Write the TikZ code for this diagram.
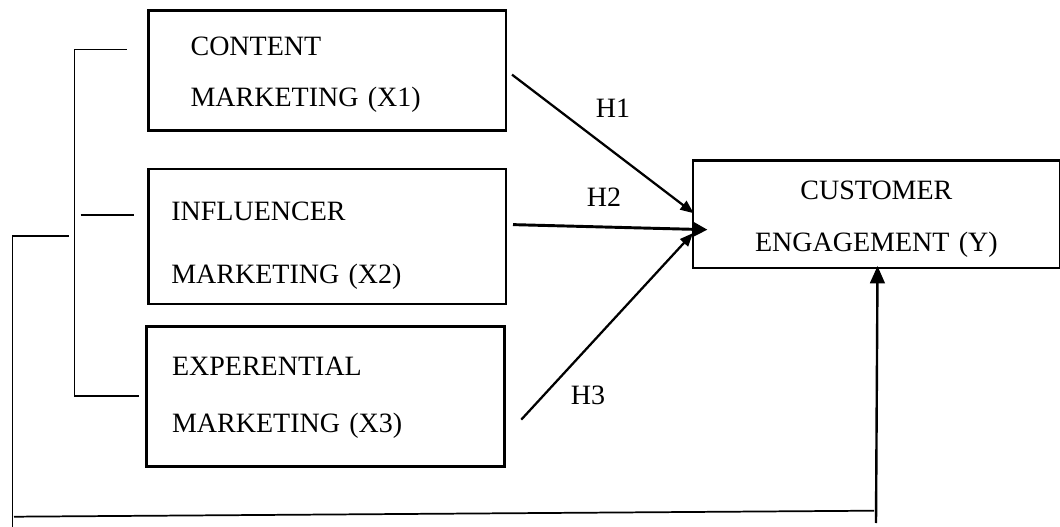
\documentclass[tikz,border=0pt]{standalone}
\usepackage{fontspec}
\setmainfont{Liberation Serif}
\usetikzlibrary{calc,arrows.meta,positioning}

\begin{document}
\begin{tikzpicture}[x=0.75pt,y=-0.75pt]

\tikzset{varbox/.style={draw=black,line width=2pt,anchor=north west,align=left,inner ysep=2pt},
hyplabel/.style={anchor=base,font=\fontsize{21pt}{24pt}\selectfont},
hyparrow/.style={line width=1.7pt,-{Triangle[length=10pt,width=8pt]}},
bracketline/.style={line width=0.9pt}}

\useasboundingbox (0,0) rectangle (1060,527);

% Independent variables
\node[varbox,text width=204.9pt,inner xsep=31.7pt,minimum height=90pt,font=\fontsize{21pt}{38.25pt}\selectfont] (x1) at (147,9.3) {\rule{0pt}{20.5pt}CONTENT\\MARKETING (X1)};
\node[varbox,text width=233.8pt,inner xsep=17.25pt,minimum height=101.25pt,font=\fontsize{21pt}{46.7pt}\selectfont] (x2) at (147,167.7) {\rule{0pt}{27.7pt}INFLUENCER\\MARKETING (X2)};
\node[varbox,text width=230.2pt,inner xsep=19pt,minimum height=105pt,font=\fontsize{21pt}{42.5pt}\selectfont] (x3) at (145.4,325) {\rule{0pt}{16.3pt}EXPERENTIAL\\MARKETING (X3)};

% Dependent variable
\node[varbox,align=center,text width=255.1pt,inner xsep=10pt,minimum height=80.8pt,font=\fontsize{21pt}{39.3pt}\selectfont] (y) at (691.7,159) {\rule{0pt}{21.2pt}CUSTOMER\\ENGAGEMENT (Y)};

% Hypotheses
\node[hyplabel] (h1) at (613,117.3) {H1};
\node[hyplabel] (h2) at (604,206.7) {H2};
\node[hyplabel] (h3) at (588,404) {H3};
\draw[hyparrow] ([shift={(4.6,4)}]x1.east) -- ([shift={(2,-1)}]y.west);
\draw[hyparrow,line width=2.2pt,-{Triangle[length=11pt,width=11pt]}] ([shift={(5.6,-11.9)}]x2.east) -- ([shift={(15.8,15.5)}]y.west);
\draw[hyparrow] ([shift={(15.6,23.3)}]x3.east) -- ([shift={(1.3,18.9)}]y.west);

% Bracket round the three variables
\coordinate (btop) at (74.4,49.3);
\coordinate (bbot) at (74.4,396);
\draw[bracketline] ($(btop)+(52.4,0)$) -- (btop) -- (bbot) -- +(64.2,0);
\draw[bracketline] (80.5,215) -- (134.2,215);

% Simultaneous effect
\coordinate (otop) at (12.5,236);
\coordinate (obot) at (12.5,527);
\coordinate (lstart) at (14,516.7);
\coordinate (lend) at (874,510.7);
\coordinate (fbase) at (876,523);
\draw[bracketline] ($(otop)+(56.1,0)$) -- (otop) -- (obot);
\draw[line width=1.3pt] (lstart) -- (lend);
\draw[line width=1.8pt,-{Triangle[length=13pt,width=11pt]}] (fbase) -- ([shift={(1.1,-3.4)}]y.south);

\end{tikzpicture}
\end{document}
